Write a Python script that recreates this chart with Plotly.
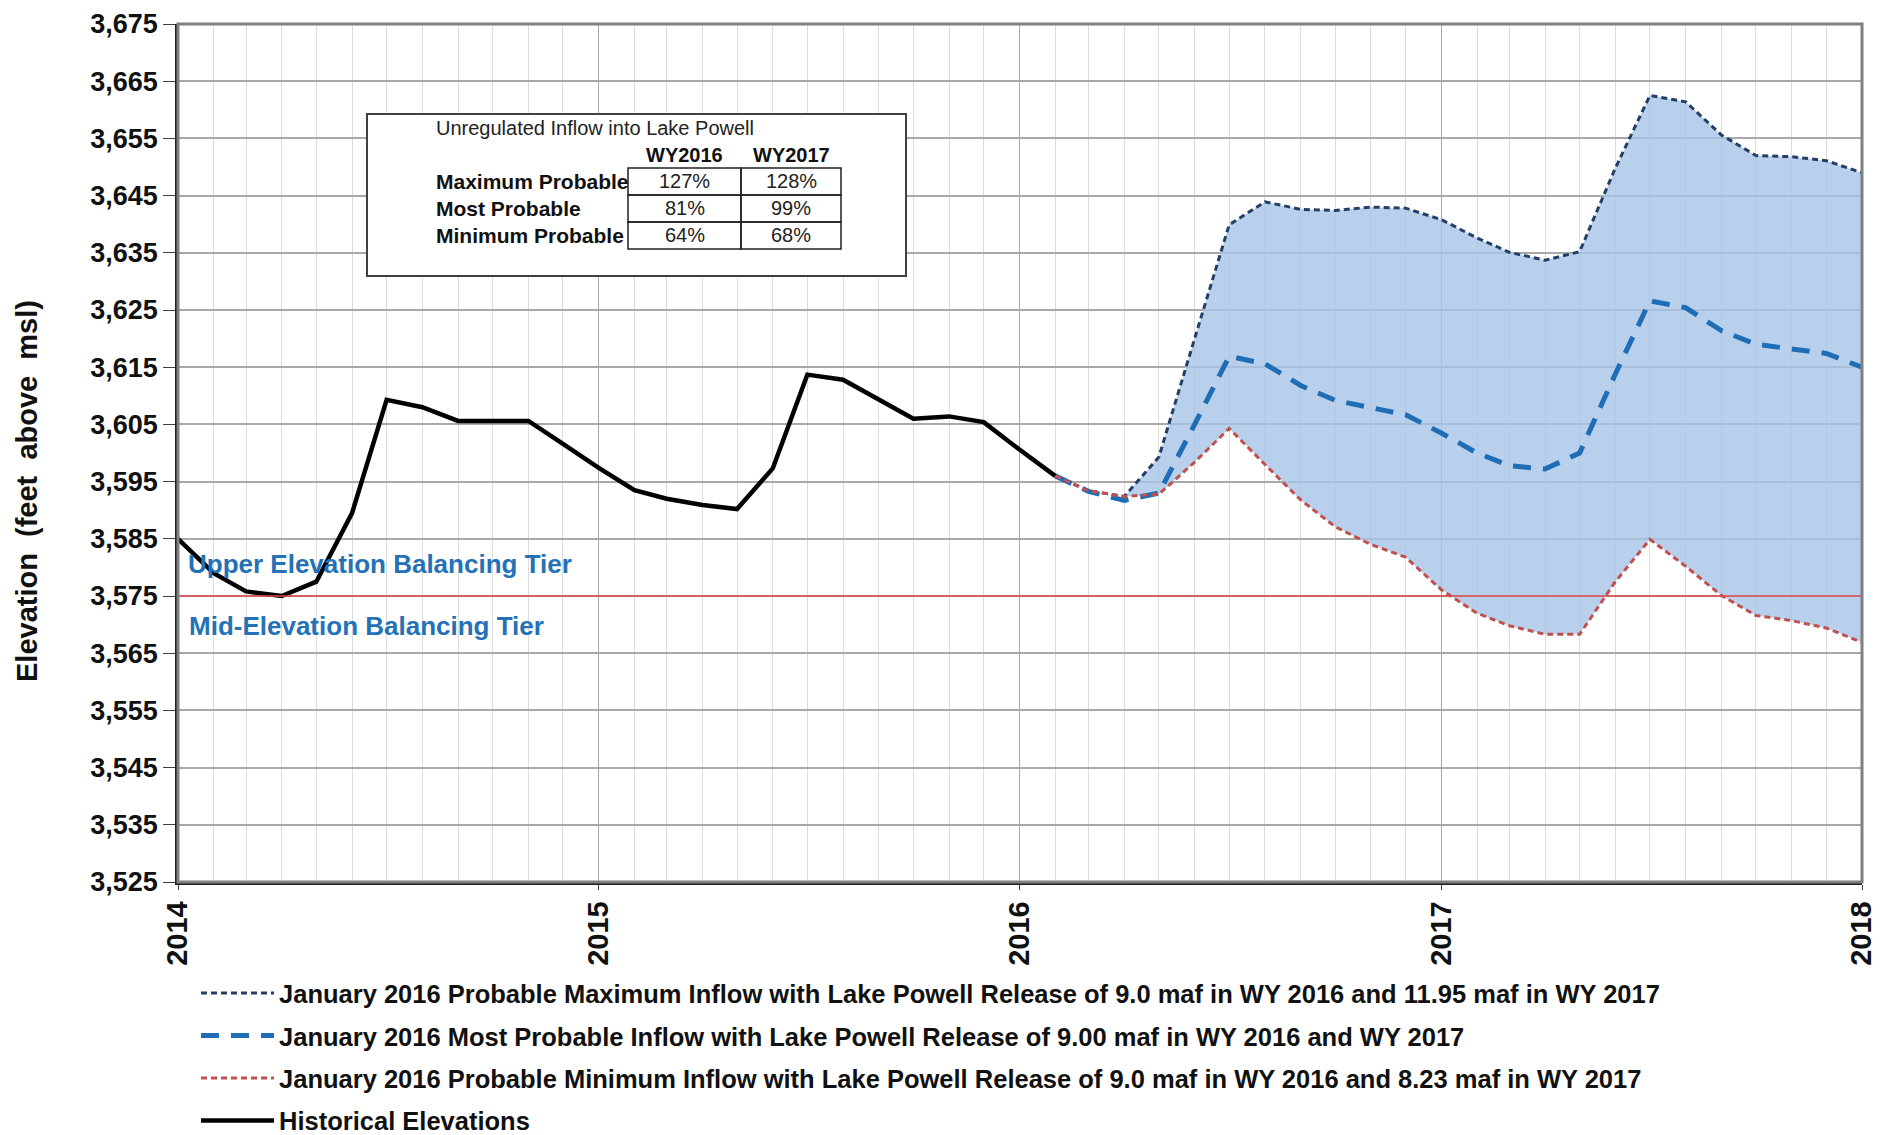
import plotly.graph_objects as go

# ---------------- data ----------------
hist_dates = ["2014-01-01", "2014-02-01", "2014-03-01", "2014-04-01", "2014-05-01", "2014-06-01",
              "2014-07-01", "2014-08-01", "2014-09-01", "2014-10-01", "2014-11-01", "2014-12-01",
              "2015-01-01", "2015-02-01", "2015-03-01", "2015-04-01", "2015-05-01", "2015-06-01",
              "2015-07-01", "2015-08-01", "2015-09-01", "2015-10-01", "2015-11-01", "2015-12-01",
              "2016-01-01", "2016-02-01"]
hist_elev = [3585.0, 3579.0, 3575.8, 3575.0, 3577.5, 3589.5,
             3609.3, 3608.0, 3605.6, 3605.6, 3605.6, 3601.6,
             3597.4, 3593.5, 3592.0, 3590.9, 3590.2, 3597.3,
             3613.7, 3612.8, 3609.3, 3606.0, 3606.4, 3605.4,
             3600.6, 3596.0]

proj_dates = ["2016-02-01", "2016-03-01", "2016-04-01", "2016-05-01", "2016-06-01", "2016-07-01",
              "2016-08-01", "2016-09-01", "2016-10-01", "2016-11-01", "2016-12-01", "2017-01-01",
              "2017-02-01", "2017-03-01", "2017-04-01", "2017-05-01", "2017-06-01", "2017-07-01",
              "2017-08-01", "2017-09-01", "2017-10-01", "2017-11-01", "2017-12-01", "2018-01-01"]
max_elev = [3596.0, 3593.4, 3592.4, 3599.3, 3620.0, 3639.9,
            3643.9, 3642.6, 3642.4, 3643.0, 3642.8, 3640.8,
            3637.6, 3635.1, 3633.7, 3635.2, 3649.8, 3662.5,
            3661.4, 3655.6, 3652.0, 3651.8, 3651.1, 3649.0]
most_elev = [3596.0, 3593.3, 3591.7, 3593.0, 3605.0, 3616.9,
             3615.6, 3611.8, 3609.2, 3607.9, 3606.7, 3603.5,
             3600.0, 3597.8, 3597.2, 3600.0, 3613.8, 3626.6,
             3625.4, 3621.4, 3619.0, 3618.2, 3617.4, 3615.0]
min_elev = [3596.0, 3593.4, 3592.4, 3592.8, 3598.4, 3604.3,
            3598.0, 3591.8, 3587.1, 3584.0, 3581.8, 3576.1,
            3572.0, 3569.8, 3568.3, 3568.3, 3577.5, 3584.9,
            3580.2, 3575.1, 3571.6, 3570.7, 3569.4, 3566.9]

tier_boundary = 3575
y_ticks = list(range(3525, 3676, 10))

series_names = [
    "January 2016 Probable Maximum Inflow with Lake Powell Release of 9.0 maf in WY 2016 and 11.95 maf in WY 2017",
    "January 2016 Most Probable Inflow with Lake Powell Release of 9.00 maf in WY 2016 and WY 2017",
    "January 2016 Probable Minimum Inflow with Lake Powell Release of 9.0 maf in WY 2016 and 8.23 maf in WY 2017",
    "Historical Elevations",
]
y_title = "Elevation  (feet  above  msl)"

table_title = "Unregulated Inflow into Lake Powell"
table_cols = ["WY2016", "WY2017"]
table_rows = ["Maximum Probable", "Most Probable", "Minimum Probable"]
table_wy2016 = ["127%", "81%", "64%"]
table_wy2017 = ["128%", "99%", "68%"]

upper_tier_label = "Upper Elevation Balancing Tier"
mid_tier_label = "Mid-Elevation Balancing Tier"

# ---------------- figure ----------------
FONT = "Liberation Sans, Arial, sans-serif"
OFF = 8                     # page has an 8px body margin
W, H = 1889 - OFF, 1135 - OFF
PL, PR, PT, PB = 178 - OFF, 1862 - OFF, 24 - OFF, 882 - OFF   # plot box in figure px

fig = go.Figure()

# shaded band between max and min
fig.add_trace(go.Scatter(
    x=proj_dates + proj_dates[::-1],
    y=max_elev + min_elev[::-1],
    fill="toself", fillcolor="rgba(168,196,232,0.80)",
    line=dict(width=0), mode="lines", showlegend=False, hoverinfo="skip"))

fig.add_trace(go.Scatter(x=proj_dates, y=max_elev, mode="lines", name=series_names[0],
                         legendgroup="a",
                         line=dict(color="#243F66", width=3, dash="6px,4px")))
fig.add_trace(go.Scatter(x=proj_dates, y=most_elev, mode="lines", name=series_names[1],
                         legendgroup="b",
                         line=dict(color="#1F6DB5", width=5, dash="18px,12px")))
fig.add_trace(go.Scatter(x=proj_dates, y=min_elev, mode="lines", name=series_names[2],
                         legendgroup="c",
                         line=dict(color="#C0504D", width=3, dash="6px,4px")))
fig.add_trace(go.Scatter(x=hist_dates, y=hist_elev, mode="lines", name=series_names[3],
                         legendgroup="d",
                         line=dict(color="#000000", width=4.5)))

# red tier boundary line
fig.add_shape(type="line", xref="paper", x0=0, x1=1, yref="y", y0=tier_boundary, y1=tier_boundary,
              line=dict(color="#E04848", width=1.3), layer="above")

# grey top/right border
fig.add_shape(type="rect", xref="paper", yref="paper", x0=0, x1=1, y0=0, y1=1,
              line=dict(color="#808080", width=3), layer="above")

# tier labels
fig.add_annotation(x="2014-01-08", y=3580.6, xref="x", yref="y", text=f"<b>{upper_tier_label}</b>",
                   showarrow=False, xanchor="left", yanchor="middle",
                   font=dict(family=FONT, size=26, color="#2472B5"))
fig.add_annotation(x="2014-01-09", y=3569.8, xref="x", yref="y", text=f"<b>{mid_tier_label}</b>",
                   showarrow=False, xanchor="left", yanchor="middle",
                   font=dict(family=FONT, size=26, color="#2472B5"))


# ---- helpers: page pixel -> paper coords ----
def px(X):
    return (X - OFF - PL) / float(PR - PL)


def py(Y):
    return (PB - (Y - OFF)) / float(PB - PT)


# y-axis title as rotated annotation (sits below axis centre in the original)
fig.add_annotation(xref="paper", yref="paper", x=px(27), y=py(491), text=f"<b>{y_title}</b>",
                   textangle=-90, showarrow=False, xanchor="center", yanchor="middle",
                   font=dict(family=FONT, size=29, color="#111111"))

# ---- inflow table (box + cells + text) ----
fig.add_shape(type="rect", xref="paper", yref="paper", x0=px(367), x1=px(906), y0=py(276), y1=py(114),
              line=dict(color="#404040", width=2), fillcolor="white", layer="above")
fig.add_annotation(xref="paper", yref="paper", x=px(434), y=py(128), text=table_title, showarrow=False,
                   xanchor="left", yanchor="middle", font=dict(family=FONT, size=20, color="#222222"))
col_edges = [628, 741, 841]
row_edges = [168, 195, 222, 249]
for j, c in enumerate(table_cols):
    fig.add_annotation(xref="paper", yref="paper", x=px((col_edges[j] + col_edges[j + 1]) / 2), y=py(155),
                       text=f"<b>{c}</b>", showarrow=False, xanchor="center", yanchor="middle",
                       font=dict(family=FONT, size=20, color="#111111"))
for i, r in enumerate(table_rows):
    yc = (row_edges[i] + row_edges[i + 1]) / 2
    fig.add_annotation(xref="paper", yref="paper", x=px(434), y=py(yc), text=f"<b>{r}</b>",
                       showarrow=False, xanchor="left", yanchor="middle",
                       font=dict(family=FONT, size=21, color="#111111"))
    for j, vals in enumerate([table_wy2016, table_wy2017]):
        fig.add_shape(type="rect", xref="paper", yref="paper",
                      x0=px(col_edges[j]), x1=px(col_edges[j + 1]),
                      y0=py(row_edges[i + 1]), y1=py(row_edges[i]),
                      line=dict(color="#202020", width=1.5), layer="above")
        fig.add_annotation(xref="paper", yref="paper", x=px((col_edges[j] + col_edges[j + 1]) / 2), y=py(yc),
                           text=vals[i], showarrow=False, xanchor="center", yanchor="middle",
                           font=dict(family=FONT, size=20, color="#222222"))

fig.update_layout(
    width=W, height=H,
    margin=dict(l=PL, r=W - PR, t=PT, b=H - PB, autoexpand=False),
    paper_bgcolor="white", plot_bgcolor="white",
    font=dict(family=FONT, color="#111111"),
    showlegend=True,
    legend=dict(x=0.0107, y=-0.1026, xanchor="left", yanchor="top",
                font=dict(family=FONT, size=25.5, color="#111111", weight="bold"),
                bgcolor="rgba(0,0,0,0)", tracegroupgap=6.3, traceorder="grouped",
                itemwidth=73),
    xaxis=dict(
        type="date", range=["2014-01-01", "2018-01-01"], automargin=False,
        dtick="M12", tick0="2014-01-01", tickformat="%Y", tickangle=-90,
        tickfont=dict(family=FONT, size=29, color="#111111", weight="bold"),
        ticklabeloverflow="allow",
        showgrid=True, gridcolor="#A8A8A8", gridwidth=1.3,
        minor=dict(dtick="M1", showgrid=True, gridcolor="#DDDDDD", gridwidth=1),
        showline=True, linecolor="#202020", linewidth=2.5,
        ticks="outside", ticklen=5, tickcolor="#404040",
        zeroline=False,
    ),
    yaxis=dict(
        range=[3525, 3675], tickvals=y_ticks, tickformat=",d", automargin=False,
        tickfont=dict(family=FONT, size=27, color="#111111", weight="bold"),
        ticklabeloverflow="allow",
        showgrid=True, gridcolor="#A8A8A8", gridwidth=1.5,
        showline=True, linecolor="#202020", linewidth=2.5,
        ticks="outside", ticklen=12, tickcolor="#404040",
        zeroline=False,
    ),
)

fig.write_html("out.html")
